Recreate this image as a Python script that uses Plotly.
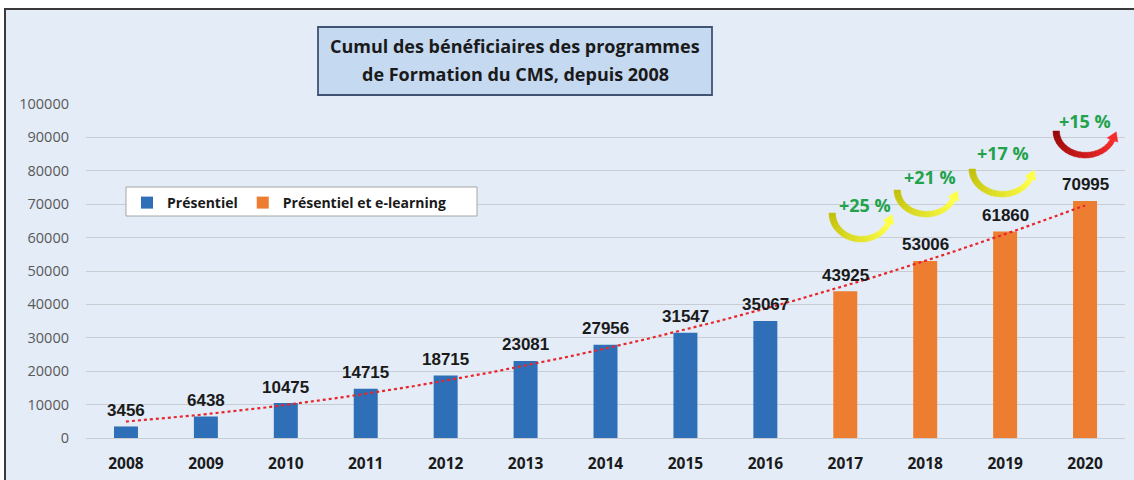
import numpy as np
import plotly.graph_objects as go

# ---------------- data ----------------
years = [2008, 2009, 2010, 2011, 2012, 2013, 2014, 2015, 2016, 2017, 2018, 2019, 2020]
presentiel_years = [2008, 2009, 2010, 2011, 2012, 2013, 2014, 2015, 2016]
presentiel_values = [3456, 6438, 10475, 14715, 18715, 23081, 27956, 31547, 35067]
elearning_years = [2017, 2018, 2019, 2020]
elearning_values = [43925, 53006, 61860, 70995]
y_tick_values = [0, 10000, 20000, 30000, 40000, 50000, 60000, 70000, 80000, 90000, 100000]
series_names = ["Présentiel", "Présentiel et e-learning"]
title_lines = ["Cumul des bénéficiaires des programmes", "de Formation du CMS, depuis 2008"]

all_values = presentiel_values + elearning_values

# ---------------- geometry ----------------
W, H = 1134, 480
L, R, T, B = 86, 9, 104, 42
PW, PH = W - L - R, H - T - B


def p2x(px):
    return (px - L) / PW


def p2y(py):
    return (H - B - py) / PH


BLUE = "#2E6FB7"
ORANGE = "#ED7D31"
BG = "#E3ECF7"
LABEL_FONT = "Liberation Sans, Arial, sans-serif"
CAL = "Open Sans, Lato, sans-serif"

fig = go.Figure()
fig.add_trace(go.Bar(x=presentiel_years, y=presentiel_values, name=series_names[0],
                     marker=dict(color=BLUE, line=dict(width=0)), width=0.3))
fig.add_trace(go.Bar(x=elearning_years, y=elearning_values, name=series_names[1],
                     marker=dict(color=ORANGE, line=dict(width=0)), width=0.3))

# polynomial (order 2) trendline, like Excel
coef = np.polyfit(np.array(years, dtype=float) - 2014, np.array(all_values, dtype=float), 2)
tx = np.linspace(years[0], years[-1], 200)
ty = np.polyval(coef, tx - 2014)
fig.add_trace(go.Scatter(x=tx, y=ty, mode="lines", showlegend=False, hoverinfo="skip",
                         line=dict(color="#E8262A", width=2.2, dash="dot")))

annotations = []
# data labels
for yr, v in zip(years, all_values):
    annotations.append(dict(x=yr, y=v, xref="x", yref="y", text=str(v), showarrow=False,
                            xanchor="center", yanchor="middle", yshift=16,
                            font=dict(family=LABEL_FONT, size=17, color="#1a1a1a", weight="bold")))

# growth arrows (decoration)
arc_params = [
    (861, 213, 32, 29, "#C2C00A", "#FFFF48"),
    (926, 190, 32, 27, "#C2C00A", "#FFFF48"),
    (1002, 169, 33, 28, "#C2C00A", "#FFFF48"),
    (1085, 131, 32, 27, "#970808", "#F52A2A"),
]
pct_pos = [(865, 205), (930, 177), (1003, 153), (1085, 121)]


def mix(c0, c1, f):
    a = [int(c0[i:i + 2], 16) for i in (1, 3, 5)]
    b = [int(c1[i:i + 2], 16) for i in (1, 3, 5)]
    return "#%02x%02x%02x" % tuple(int(round(a[k] + (b[k] - a[k]) * f)) for k in range(3))


def path_of(pts):
    return "M " + " L ".join("%.5f,%.5f" % (p2x(x), p2y(y)) for x, y in pts) + " Z"


shapes = []
# outer frame
shapes.append(dict(type="rect", xref="paper", yref="paper", x0=p2x(5), x1=p2x(1250),
                   y0=p2y(560), y1=p2y(9), fillcolor=BG,
                   line=dict(color="#3A3A3A", width=2), layer="below"))
# title box
shapes.append(dict(type="rect", xref="paper", yref="paper", x0=p2x(318), x1=p2x(712),
                   y0=p2y(95), y1=p2y(27), fillcolor="#C5D9F1",
                   line=dict(color="#3F5473", width=1.8), layer="below"))
# legend box
shapes.append(dict(type="rect", xref="paper", yref="paper", x0=p2x(126), x1=p2x(477),
                   y0=p2y(216), y1=p2y(187), fillcolor="white",
                   line=dict(color="#A6A6A6", width=1), layer="above"))

for (cx, cy, rx, ry, c0, c1) in arc_params:
    th_end = 0.88 * np.pi
    nseg = 18
    ths = np.linspace(0, th_end, nseg + 1)

    def wid(t):
        return 6.5 - 1.5 * t / th_end

    def outer(t):
        return (cx - rx * np.cos(t), cy + ry * np.sin(t))

    def inner(t):
        w = wid(t)
        return (cx - (rx - w) * np.cos(t), cy + (ry - w) * np.sin(t))

    for i in range(nseg):
        t0, t1 = ths[i], min(ths[i + 1] + 0.01, th_end)
        tm = (t0 + t1) / 2
        pts = [outer(t0), outer(tm), outer(t1), inner(t1), inner(tm), inner(t0)]
        col = mix(c0, c1, i / (nseg - 1))
        shapes.append(dict(type="path", xref="paper", yref="paper", path=path_of(pts),
                           fillcolor=col, line=dict(color=col, width=0.5), layer="above"))
    # arrow head
    o = np.array(outer(th_end))
    n = np.array(inner(th_end))
    mid = (o + n) / 2
    tan = np.array([rx * np.sin(th_end), ry * np.cos(th_end)])
    tan = tan / np.linalg.norm(tan)
    perp = (o - n) / np.linalg.norm(o - n)
    half = np.linalg.norm(o - n) / 2 + 3.2
    tip = mid + tan * 9
    pts = [tuple(mid + perp * half), tuple(tip), tuple(mid - perp * half)]
    shapes.append(dict(type="path", xref="paper", yref="paper", path=path_of(pts),
                       fillcolor=c1, line=dict(color=c1, width=0.5), layer="above"))

# growth percentages
for k, yr in enumerate(elearning_years):
    idx = years.index(yr)
    pct = round((all_values[idx] / all_values[idx - 1] - 1) * 100)
    px, py = pct_pos[k]
    annotations.append(dict(x=p2x(px), y=p2y(py), xref="paper", yref="paper",
                            xanchor="center", yanchor="middle",
                            text="+%d %%" % pct, showarrow=False,
                            font=dict(family=CAL, size=18, color="#22A24A", weight="bold")))

# title text
for i, line in enumerate(title_lines):
    annotations.append(dict(x=p2x(515), y=p2y(46 + 28 * i), xref="paper", yref="paper",
                            xanchor="center", yanchor="middle",
                            text=line, showarrow=False,
                            font=dict(family=CAL, size=18, color="#1a1a1a", weight="bold")))

fig.update_layout(
    width=W, height=H,
    margin=dict(l=L, r=R, t=T, b=B, pad=0, autoexpand=False),
    paper_bgcolor="white",
    plot_bgcolor="rgba(0,0,0,0)",
    barmode="overlay",
    showlegend=True,
    legend=dict(orientation="h", x=p2x(127), y=p2y(187), xanchor="left", yanchor="top",
                bgcolor="rgba(0,0,0,0)", borderwidth=0,
                font=dict(family=CAL, size=14, color="#1a1a1a", weight="bold"),
                itemwidth=30, tracegroupgap=0),
    xaxis=dict(range=[2007.5, 2020.5], tickmode="array", tickvals=years,
               ticktext=[str(y) for y in years], showgrid=False, zeroline=False,
               showline=False, ticks="", ticklabelstandoff=14, automargin=False,
               tickfont=dict(family=CAL, size=15.5, color="#1a1a1a", weight="bold")),
    yaxis=dict(range=[0, 100000], tickmode="array", tickvals=y_tick_values,
               ticktext=[str(v) for v in y_tick_values], showgrid=True,
               gridcolor="#C8CDD4", gridwidth=1, zeroline=True, zerolinecolor="#C8CDD4",
               zerolinewidth=1, showline=False, ticks="", ticklabelstandoff=16,
               automargin=False,
               tickfont=dict(family=CAL, size=14.5, color="#595959")),
    annotations=annotations,
    shapes=shapes,
)

fig.write_html("out.html", config={"displayModeBar": False},
               post_script="document.body.style.margin='0';document.body.style.overflow='hidden';")
